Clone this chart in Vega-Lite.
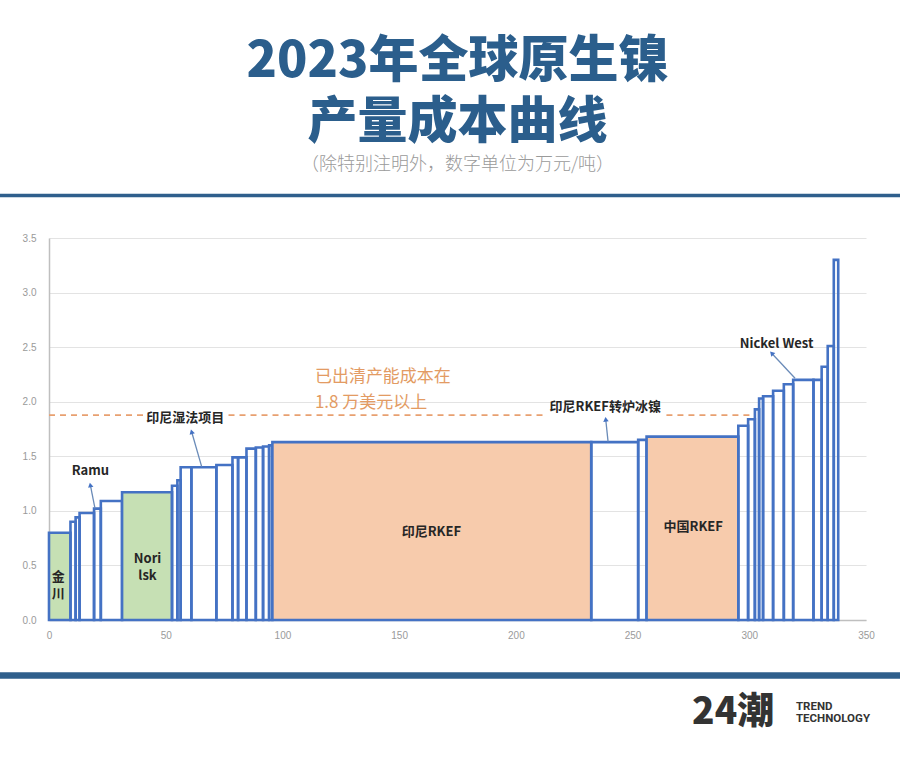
{
  "$schema": "https://vega.github.io/schema/vega-lite/v6.json",
  "autosize": "none",
  "width": 817,
  "height": 382,
  "padding": {"left": 49, "top": 238, "right": 34, "bottom": 137},
  "background": "white",
  "config": {"view": {"stroke": null}, "font": "Noto Sans CJK SC"},
  "title": {
    "text": ["2023年全球原生镍", "产量成本曲线"],
    "subtitle": "（除特别注明外，数字单位为万元/吨）",
    "anchor": "middle",
    "font": "Noto Sans CJK SC",
    "fontSize": 50,
    "fontWeight": 900,
    "lineHeight": 61,
    "color": "#2B5E8C",
    "subtitleFont": "Noto Sans CJK SC",
    "subtitleFontSize": 18,
    "subtitleFontWeight": 300,
    "subtitleColor": "#9a9a9a",
    "subtitlePadding": 8,
    "offset": 20
  },
  "datasets": {
    "bars": [
      {"x0": 0, "x1": 9.2, "cost": 0.80, "type": "硫化矿"},
      {"x0": 9.2, "x1": 11.4, "cost": 0.90, "type": "其他"},
      {"x0": 11.4, "x1": 13.1, "cost": 0.94, "type": "其他"},
      {"x0": 13.1, "x1": 19.3, "cost": 0.98, "type": "其他"},
      {"x0": 19.3, "x1": 22.2, "cost": 1.02, "type": "其他"},
      {"x0": 22.2, "x1": 31.3, "cost": 1.09, "type": "其他"},
      {"x0": 31.3, "x1": 52.7, "cost": 1.17, "type": "硫化矿"},
      {"x0": 52.7, "x1": 55.0, "cost": 1.23, "type": "其他"},
      {"x0": 55.0, "x1": 56.4, "cost": 1.28, "type": "其他"},
      {"x0": 56.4, "x1": 61.0, "cost": 1.40, "type": "其他"},
      {"x0": 61.0, "x1": 71.7, "cost": 1.40, "type": "其他"},
      {"x0": 71.7, "x1": 78.6, "cost": 1.42, "type": "其他"},
      {"x0": 78.6, "x1": 81.0, "cost": 1.49, "type": "其他"},
      {"x0": 81.0, "x1": 84.6, "cost": 1.49, "type": "其他"},
      {"x0": 84.6, "x1": 88.6, "cost": 1.57, "type": "其他"},
      {"x0": 88.6, "x1": 91.7, "cost": 1.58, "type": "其他"},
      {"x0": 91.7, "x1": 94.3, "cost": 1.59, "type": "其他"},
      {"x0": 94.3, "x1": 95.7, "cost": 1.60, "type": "其他"},
      {"x0": 95.7, "x1": 232.3, "cost": 1.63, "type": "RKEF"},
      {"x0": 232.3, "x1": 252.4, "cost": 1.63, "type": "其他"},
      {"x0": 252.4, "x1": 256.0, "cost": 1.65, "type": "其他"},
      {"x0": 256.0, "x1": 295.3, "cost": 1.68, "type": "RKEF"},
      {"x0": 295.3, "x1": 299.5, "cost": 1.78, "type": "其他"},
      {"x0": 299.5, "x1": 302.4, "cost": 1.84, "type": "其他"},
      {"x0": 302.4, "x1": 304.2, "cost": 1.93, "type": "其他"},
      {"x0": 304.2, "x1": 305.9, "cost": 2.03, "type": "其他"},
      {"x0": 305.9, "x1": 310.2, "cost": 2.05, "type": "其他"},
      {"x0": 310.2, "x1": 314.8, "cost": 2.10, "type": "其他"},
      {"x0": 314.8, "x1": 318.8, "cost": 2.16, "type": "其他"},
      {"x0": 318.8, "x1": 327.5, "cost": 2.20, "type": "其他"},
      {"x0": 327.5, "x1": 331.0, "cost": 2.20, "type": "其他"},
      {"x0": 331.0, "x1": 333.6, "cost": 2.32, "type": "其他"},
      {"x0": 333.6, "x1": 336.2, "cost": 2.51, "type": "其他"},
      {"x0": 336.2, "x1": 338.1, "cost": 3.30, "type": "其他"}
    ],
    "dash": [
      {"x0": 0, "x1": 40.3, "y": 1.878},
      {"x0": 76.9, "x1": 212.5, "y": 1.878},
      {"x0": 264.5, "x1": 301.8, "y": 1.878}
    ],
    "arrows": [
      {"name": "Ramu", "xb": 19.7, "yb": 1.023, "xt": 17.7, "yt": 1.237, "angle": 348.6},
      {"name": "印尼湿法项目", "xb": 65.4, "yb": 1.405, "xt": 61.1, "yt": 1.725, "angle": 343.9},
      {"name": "印尼RKEF转炉冰镍", "xb": 239.5, "yb": 1.634, "xt": 238.5, "yt": 1.839, "angle": 353.9},
      {"name": "Nickel West", "xb": 319.6, "yb": 2.215, "xt": 309.6, "yt": 2.444, "angle": 317}
    ],
    "labels": [
      {"text": "Ramu", "x": 17.7, "y": 1.368},
      {"text": "印尼湿法项目", "x": 58.4, "y": 1.851},
      {"text": "印尼RKEF转炉冰镍", "x": 238.3, "y": 1.954},
      {"text": "Nickel West", "x": 311.7, "y": 2.529},
      {"text": "金\n川", "x": 4.0, "y": 0.3975},
      {"text": "Nori\nlsk", "x": 42.2, "y": 0.5615},
      {"text": "印尼RKEF", "x": 163.8, "y": 0.809},
      {"text": "中国RKEF", "x": 276.0, "y": 0.855}
    ],
    "note": [
      {"text": "已出清产能成本在", "x": 113.9, "y": 2.229},
      {"text": "1.8 万美元以上", "x": 113.9, "y": 1.986}
    ]
  },
  "layer": [
    {
      "data": {"name": "bars"},
      "mark": {"type": "rect", "stroke": "#4472C4", "strokeWidth": 2.6},
      "encoding": {
        "x": {"field": "x0", "type": "quantitative",
          "scale": {"domain": [0, 350], "nice": false, "zero": false},
          "axis": {"values": [0, 50, 100, 150, 200, 250, 300, 350], "grid": false, "ticks": false,
            "domainColor": "#bfbfbf", "domainWidth": 1.5, "labelColor": "#9a9a9a", "labelFontSize": 10,
            "labelFont": "Liberation Sans", "labelPadding": 10, "title": null, "labelFlush": false}},
        "x2": {"field": "x1"},
        "y": {"field": "cost", "type": "quantitative",
          "scale": {"domain": [0, 3.5], "nice": false},
          "axis": {"values": [0, 0.5, 1, 1.5, 2, 2.5, 3, 3.5], "format": ".1f", "grid": true,
            "gridColor": "#e3e3e3", "gridWidth": 1, "ticks": false, "domainColor": "#bfbfbf", "domainWidth": 1.5,
            "labelColor": "#9a9a9a", "labelFontSize": 10, "labelFont": "Liberation Sans",
            "labelPadding": 13, "title": null}},
        "y2": {"datum": 0},
        "fill": {"field": "type", "type": "nominal",
          "scale": {"domain": ["硫化矿", "RKEF", "其他"], "range": ["#C6E0B4", "#F7CBAC", "rgba(255,255,255,0)"]},
          "legend": null}
      }
    },
    {
      "data": {"name": "dash"},
      "mark": {"type": "rule", "color": "#E8A070", "strokeWidth": 1.8, "strokeDash": [6, 5]},
      "encoding": {
        "x": {"field": "x0", "type": "quantitative"},
        "x2": {"field": "x1"},
        "y": {"field": "y", "type": "quantitative"}
      }
    },
    {
      "data": {"name": "arrows"},
      "mark": {"type": "rule", "color": "#6a8bb8", "strokeWidth": 1.3},
      "encoding": {
        "x": {"field": "xb", "type": "quantitative"},
        "y": {"field": "yb", "type": "quantitative"},
        "x2": {"field": "xt"},
        "y2": {"field": "yt"}
      }
    },
    {
      "data": {"name": "arrows"},
      "mark": {"type": "point", "shape": "triangle-up", "filled": true, "color": "#4472C4", "size": 30, "opacity": 1},
      "encoding": {
        "x": {"field": "xt", "type": "quantitative"},
        "y": {"field": "yt", "type": "quantitative"},
        "angle": {"field": "angle", "type": "quantitative", "scale": null}
      }
    },
    {
      "data": {"name": "labels"},
      "mark": {"type": "text", "font": "Noto Sans CJK SC", "fontWeight": "bold", "fontSize": 13, "color": "#262626", "align": "center", "baseline": "middle", "lineBreak": "\n", "lineHeight": 17},
      "encoding": {
        "x": {"field": "x", "type": "quantitative"},
        "y": {"field": "y", "type": "quantitative"},
        "text": {"field": "text"}
      }
    },
    {
      "data": {"name": "note"},
      "mark": {"type": "text", "font": "Noto Sans CJK SC", "fontSize": 17, "color": "#E39B63", "align": "left", "baseline": "middle"},
      "encoding": {
        "x": {"field": "x", "type": "quantitative"},
        "y": {"field": "y", "type": "quantitative"},
        "text": {"field": "text"}
      }
    },
    {
      "data": {"values": [{}]},
      "mark": {"type": "rule", "color": "#2F5F8C", "strokeWidth": 3.5},
      "encoding": {"x": {"datum": -21}, "x2": {"datum": 364.6}, "y": {"datum": 3.889}}
    },
    {
      "data": {"values": [{}]},
      "mark": {"type": "rule", "color": "#2F5F8C", "strokeWidth": 6.5},
      "encoding": {"x": {"datum": -21}, "x2": {"datum": 364.6}, "y": {"datum": -0.5085}}
    },
    {
      "data": {"values": [{}]},
      "mark": {"type": "text", "font": "Noto Sans CJK SC", "fontWeight": 900, "fontSize": 37, "color": "#333333", "align": "left", "baseline": "middle"},
      "encoding": {"x": {"datum": 275.5}, "y": {"datum": -0.853}, "text": {"value": "24潮"}}
    },
    {
      "data": {"values": [{}]},
      "mark": {"type": "text", "font": "Roboto", "fontWeight": "bold", "fontSize": 11.5, "color": "#333333", "align": "left", "baseline": "middle", "lineBreak": "\n", "lineHeight": 12.5},
      "encoding": {"x": {"datum": 320.0}, "y": {"datum": -0.797}, "text": {"value": "TREND\nTECHNOLOGY"}}
    }
  ]
}
